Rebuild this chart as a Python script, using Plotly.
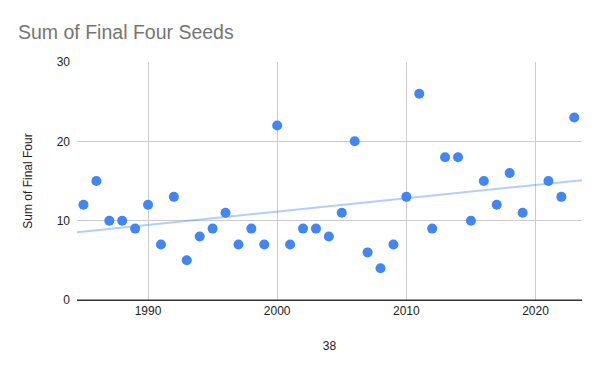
import numpy as np
import plotly.graph_objects as go

years = [1985, 1986, 1987, 1988, 1989, 1990, 1991, 1992, 1993, 1994, 1995, 1996, 1997, 1998, 1999,
         2000, 2001, 2002, 2003, 2004, 2005, 2006, 2007, 2008, 2009, 2010, 2011, 2012, 2013, 2014,
         2015, 2016, 2017, 2018, 2019, 2021, 2022, 2023]
seed_sums = [12, 15, 10, 10, 9, 12, 7, 13, 5, 8, 9, 11, 7, 9, 7,
             22, 7, 9, 9, 8, 11, 20, 6, 4, 7, 13, 26, 9, 18, 18,
             10, 15, 12, 16, 11, 15, 13, 23]
x_ticks = [1990, 2000, 2010, 2020]
y_ticks = [0, 10, 20, 30]

x_range = [1984.5, 2023.6]
slope, intercept = np.polyfit(years, seed_sums, 1)
trend_x = np.array(x_range)
trend_y = slope * trend_x + intercept

font = "Liberation Sans, Arial, sans-serif"

fig = go.Figure()
fig.add_trace(go.Scatter(
    x=trend_x, y=trend_y, mode="lines",
    line=dict(color="rgba(66,133,244,0.4)", width=2),
    hoverinfo="skip", showlegend=False,
))
fig.add_trace(go.Scatter(
    x=years, y=seed_sums, mode="markers",
    marker=dict(color="#4285F4", size=10, line=dict(width=0)),
    showlegend=False, cliponaxis=False,
))

fig.update_layout(
    width=600, height=371,
    margin=dict(l=77, r=18, t=62, b=71),
    paper_bgcolor="white", plot_bgcolor="white",
    font=dict(family=font, size=12, color="#222222"),
    title=dict(text="Sum of Final Four Seeds", x=18/600, xref="container", xanchor="left",
               y=1 - 32/371, yref="container", yanchor="middle",
               font=dict(family=font, size=19.5, color="#757575")),
    xaxis=dict(range=x_range, tickvals=x_ticks, showgrid=True, gridcolor="#cccccc", gridwidth=1,
               zeroline=False, showline=True, linecolor="#333333", linewidth=1,
               ticks="", tickfont=dict(size=12, color="#222222"),
               title=dict(text="38", font=dict(size=12, color="#222222"), standoff=24)),
    yaxis=dict(range=[0, 30], tickvals=y_ticks, showgrid=True, gridcolor="#cccccc", gridwidth=1,
               zeroline=False, showline=False, ticks="", ticklabelstandoff=6,
               tickfont=dict(size=12, color="#222222"),
               title=dict(text="Sum of Final Four", font=dict(size=12, color="#222222"), standoff=21)),
)
fig.add_shape(type="line", xref="paper", yref="y", x0=0, x1=1, y0=0, y1=0,
              line=dict(color="#333333", width=1))

fig.write_html("out.html", config={"displayModeBar": False},
               post_script="document.body.style.margin='0';")
